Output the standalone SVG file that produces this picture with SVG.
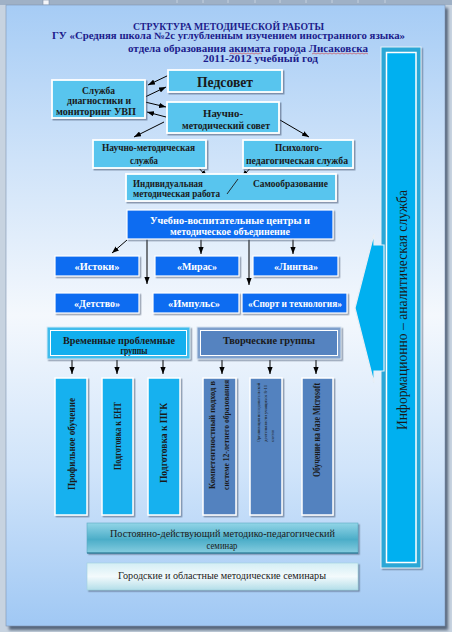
<svg xmlns="http://www.w3.org/2000/svg" width="452" height="632" viewBox="0 0 452 632">
<defs>
<linearGradient id="pg" x1="0" y1="0" x2="0" y2="1">
<stop offset="0" stop-color="#a6ccf5"/>
<stop offset="0.25" stop-color="#cfe3f9"/>
<stop offset="0.5" stop-color="#f4f8fd"/>
<stop offset="0.75" stop-color="#d0e4fa"/>
<stop offset="1" stop-color="#a0c8f4"/>
</linearGradient>
<linearGradient id="g1" x1="0" y1="0" x2="0" y2="1">
<stop offset="0" stop-color="#92d5e7"/>
<stop offset="0.55" stop-color="#4badc8"/>
<stop offset="1" stop-color="#86cde0"/>
</linearGradient>
<linearGradient id="g2" x1="0" y1="0" x2="0" y2="1">
<stop offset="0" stop-color="#d3eef5"/>
<stop offset="0.5" stop-color="#f3fafc"/>
<stop offset="1" stop-color="#b3dee9"/>
</linearGradient>
<filter id="sh" x="-10%" y="-10%" width="130%" height="140%">
<feDropShadow dx="1.5" dy="1.5" stdDeviation="0.7" flood-color="#40506a" flood-opacity="0.55"/>
</filter>
<filter id="psh" x="-5%" y="-5%" width="110%" height="110%">
<feGaussianBlur stdDeviation="1.5"/>
</filter>
<marker id="ah" viewBox="0 0 8 6" refX="8" refY="3" markerWidth="7" markerHeight="5.5" markerUnits="userSpaceOnUse" orient="auto">
<path d="M0,0 L8,3 L0,6 z" fill="#000"/>
</marker>
<style>
.t{font-family:"Liberation Serif","DejaVu Serif",serif;}
.b{font-weight:bold;}
.dk{fill:#1a1a1a;}
.wt{fill:#ffffff;}
.ttl{fill:#1c1c8c;font-weight:bold;font-size:9.5px;}
.lc{fill:#58c5ee;stroke:#ffffff;stroke-width:1.8;filter:url(#sh);}
.bl{fill:#0d6cf1;stroke:#ffffff;stroke-width:1.2;filter:url(#sh);}
.cy{fill:#15b1ef;stroke:#ffffff;stroke-width:1.5;filter:url(#sh);}
.sb{fill:#5382bf;stroke:#ffffff;stroke-width:1.5;filter:url(#sh);}
.cn line{stroke:#000;stroke-width:1;marker-end:url(#ah);}
</style>
</defs>

<!-- window / page -->
<rect x="0" y="0" width="452" height="632" fill="#c7d3e0"/>
<rect x="0" y="0" width="452" height="5" fill="#9fb1c6"/>
<rect x="43" y="0" width="6" height="5" fill="#f4f6f9" stroke="#7d8ea4" stroke-width="0.6"/>
<g stroke="#dfe6ef" stroke-width="0.6">
<line x1="177" y1="0" x2="177" y2="3"/><line x1="203" y1="0" x2="203" y2="3"/><line x1="228" y1="0" x2="228" y2="3"/>
<line x1="255" y1="0" x2="255" y2="3"/><line x1="280" y1="0" x2="280" y2="3"/><line x1="306" y1="0" x2="306" y2="3"/>
<line x1="332" y1="0" x2="332" y2="3"/><line x1="358" y1="0" x2="358" y2="3"/><line x1="385" y1="0" x2="385" y2="3"/>
</g>
<rect x="9" y="8" width="439" height="622" fill="#56667c" filter="url(#psh)"/>
<rect x="6" y="5" width="439" height="621" fill="url(#pg)" stroke="#7f95b1" stroke-width="0.6"/>

<!-- title -->
<g id="title">
<text class="t ttl" x="228.5" y="29.5" text-anchor="middle" textLength="191" lengthAdjust="spacingAndGlyphs">СТРУКТУРА МЕТОДИЧЕСКОЙ РАБОТЫ</text>
<text class="t ttl" x="228.5" y="38.5" text-anchor="middle" textLength="353" lengthAdjust="spacingAndGlyphs">ГУ «Средняя школа №2с углубленным изучением иностранного языка»</text>
<text class="t ttl" x="248" y="51.5" text-anchor="middle" textLength="240" lengthAdjust="spacingAndGlyphs">отдела образования акимата города Лисаковска</text>
<text class="t ttl" x="260.5" y="62" text-anchor="middle" textLength="115" lengthAdjust="spacingAndGlyphs">2011-2012 учебный год</text>
<path d="M230,54 l2,-1 l2,1 l2,-1 l2,1 l2,-1 l2,1 l2,-1 l2,1 l2,-1 l2,1 l2,-1 l2,1 l2,-1 l2,1 l2,-1 l2,1 M312,54 l2,-1 l2,1 l2,-1 l2,1 l2,-1 l2,1 l2,-1 l2,1 l2,-1 l2,1 l2,-1 l2,1 l2,-1 l2,1 l2,-1 l2,1 l2,-1 l2,1 l2,-1 l2,1 l2,-1 l2,1 l2,-1 l2,1 l2,-1 l2,1 l2,-1 l2,1" fill="none" stroke="#d23a3a" stroke-width="0.6"/>
</g>

<!-- right service bar -->
<g id="info-service">
<rect x="381" y="47" width="40" height="521" fill="#2aa7d6" stroke="#e4f0f9" stroke-width="1" filter="url(#sh)"/>
<rect x="386.5" y="52.5" width="29.5" height="510" fill="#00b0f0" stroke="#ffffff" stroke-width="1.5"/>
<polygon points="384,245 374,245 374,234 355,308 374,383 374,371 384,371" fill="#00b0f0" stroke="#e8eef5" stroke-width="1.2"/>
<text class="t dk" transform="translate(402,310) rotate(-90)" text-anchor="middle" dominant-baseline="central" font-size="14" textLength="240" lengthAdjust="spacingAndGlyphs">Информационно – аналитическая служба</text>
</g>

<!-- connectors -->
<g id="connectors" class="cn">
<line x1="169" y1="75" x2="148" y2="85"/>
<line x1="145" y1="97" x2="166" y2="87"/>
<line x1="145" y1="102" x2="166" y2="107"/>
<line x1="166" y1="117" x2="147" y2="112"/>
<line x1="164" y1="122" x2="134" y2="137"/>
<line x1="280" y1="120" x2="309" y2="137"/>
<line x1="197" y1="166" x2="207" y2="177"/>
<line x1="255" y1="163" x2="242" y2="177"/>
<line x1="127" y1="240" x2="112" y2="253"/>
<line x1="147" y1="239" x2="147" y2="284"/>
<line x1="201" y1="239" x2="201" y2="254"/>
<line x1="249" y1="239" x2="249" y2="285"/>
<line x1="293" y1="239" x2="293" y2="254"/>
<line x1="72" y1="360" x2="72" y2="374"/>
<line x1="117" y1="360" x2="117" y2="374"/>
<line x1="163" y1="360" x2="163" y2="374"/>
<line x1="222" y1="360" x2="222" y2="374"/>
<line x1="270" y1="360" x2="270" y2="374"/>
<line x1="316" y1="360" x2="316" y2="374"/>
</g>

<!-- top level nodes -->
<g id="pedsovet">
<rect class="lc" x="168" y="70" width="114" height="22"/>
<text class="t b dk" x="225" y="86.5" text-anchor="middle" font-size="15" textLength="56" lengthAdjust="spacingAndGlyphs">Педсовет</text>
</g>
<g id="diagnostics">
<rect class="lc" x="52" y="80" width="93" height="38"/>
<text class="t b dk" x="98.5" y="93.5" text-anchor="middle" font-size="10" textLength="33" lengthAdjust="spacingAndGlyphs">Служба</text>
<text class="t b dk" x="99" y="104" text-anchor="middle" font-size="10" textLength="64" lengthAdjust="spacingAndGlyphs">диагностики и</text>
<text class="t b dk" x="96" y="114.5" text-anchor="middle" font-size="10" textLength="80" lengthAdjust="spacingAndGlyphs">мониторинг УВП</text>
</g>
<g id="nm-council">
<rect class="lc" x="167" y="102" width="112" height="31"/>
<text class="t b dk" x="223" y="117" text-anchor="middle" font-size="10" textLength="40" lengthAdjust="spacingAndGlyphs">Научно-</text>
<text class="t b dk" x="226" y="129" text-anchor="middle" font-size="10" textLength="88" lengthAdjust="spacingAndGlyphs">методический совет</text>
</g>
<g id="nm-service">
<rect class="lc" x="93" y="140" width="113" height="28"/>
<text class="t b dk" x="148.5" y="151" text-anchor="middle" font-size="10" textLength="93" lengthAdjust="spacingAndGlyphs">Научно-методическая</text>
<text class="t b dk" x="144" y="164" text-anchor="middle" font-size="10" textLength="28" lengthAdjust="spacingAndGlyphs">служба</text>
</g>
<g id="psych-service">
<rect class="lc" x="243" y="140" width="110" height="28"/>
<text class="t b dk" x="298.5" y="151" text-anchor="middle" font-size="10" textLength="47" lengthAdjust="spacingAndGlyphs">Психолого-</text>
<text class="t b dk" x="297" y="164" text-anchor="middle" font-size="10" textLength="102" lengthAdjust="spacingAndGlyphs">педагогическая служба</text>
</g>
<g id="individual">
<rect class="lc" x="126" y="174" width="210" height="27"/>
<text class="t b dk" x="133" y="186.5" font-size="10" textLength="70" lengthAdjust="spacingAndGlyphs">Индивидуальная</text>
<text class="t b dk" x="133" y="196.5" font-size="10" textLength="87" lengthAdjust="spacingAndGlyphs">методическая работа</text>
<line x1="227" y1="194" x2="238" y2="179" stroke="#1a1a1a" stroke-width="0.9"/>
<text class="t b dk" x="253" y="186.5" font-size="10" textLength="75" lengthAdjust="spacingAndGlyphs">Самообразование</text>
</g>

<!-- educational centres -->
<g id="centres">
<rect class="bl" x="127" y="210" width="206" height="29"/>
<text class="t b wt" x="230" y="223.5" text-anchor="middle" font-size="10" textLength="160" lengthAdjust="spacingAndGlyphs">Учебно-воспитательные  центры и</text>
<text class="t b wt" x="230" y="234.5" text-anchor="middle" font-size="10" textLength="120" lengthAdjust="spacingAndGlyphs">методическое объединение</text>
</g>
<g id="istoki">
<rect class="bl" x="55" y="256" width="84" height="20"/>
<text class="t b wt" x="97" y="269.5" text-anchor="middle" font-size="10" textLength="45" lengthAdjust="spacingAndGlyphs">«Истоки»</text>
</g>
<g id="miras">
<rect class="bl" x="155" y="256" width="84" height="20"/>
<text class="t b wt" x="197" y="269.5" text-anchor="middle" font-size="10" textLength="40" lengthAdjust="spacingAndGlyphs">«Мирас»</text>
</g>
<g id="lingva">
<rect class="bl" x="253" y="256" width="85" height="20"/>
<text class="t b wt" x="296" y="269.5" text-anchor="middle" font-size="10" textLength="44" lengthAdjust="spacingAndGlyphs">«Лингва»</text>
</g>
<g id="detstvo">
<rect class="bl" x="55" y="293" width="84" height="20"/>
<text class="t b wt" x="97" y="306.5" text-anchor="middle" font-size="10" textLength="46" lengthAdjust="spacingAndGlyphs">«Детство»</text>
</g>
<g id="impuls">
<rect class="bl" x="153" y="293" width="86" height="20"/>
<text class="t b wt" x="194" y="306.5" text-anchor="middle" font-size="10" textLength="52" lengthAdjust="spacingAndGlyphs">«Импульс»</text>
</g>
<g id="sport">
<rect class="bl" x="242" y="293" width="105" height="20"/>
<text class="t b wt" x="295" y="306.5" text-anchor="middle" font-size="10" textLength="94" lengthAdjust="spacingAndGlyphs">«Спорт и технология»</text>
</g>

<!-- groups -->
<g id="temp-groups">
<rect x="47" y="327" width="143" height="32" fill="#3fbcec" stroke="#d4e9f5" stroke-width="1" filter="url(#sh)"/>
<rect x="50.5" y="330.5" width="136" height="25" fill="#12afee" stroke="#ffffff" stroke-width="1"/>
<text class="t b dk" x="119" y="343.5" text-anchor="middle" font-size="10" textLength="112" lengthAdjust="spacingAndGlyphs">Временные проблемные</text>
<text class="t b dk" x="134" y="353.5" text-anchor="middle" font-size="10" textLength="27" lengthAdjust="spacingAndGlyphs">группы</text>
</g>
<g id="creative-groups">
<rect x="197" y="327" width="144" height="32" fill="#7d9fcc" stroke="#d8e3ef" stroke-width="1" filter="url(#sh)"/>
<rect x="200.5" y="330.5" width="137" height="25" fill="#5583c0" stroke="#ffffff" stroke-width="1"/>
<text class="t b dk" x="269" y="343.5" text-anchor="middle" font-size="10" textLength="92" lengthAdjust="spacingAndGlyphs">Творческие группы</text>
</g>

<!-- vertical boxes -->
<g id="profile">
<rect class="cy" x="55" y="378" width="32" height="137"/>
<text class="t b dk" transform="translate(71,444) rotate(-90)" text-anchor="middle" dominant-baseline="central" font-size="10" textLength="92" lengthAdjust="spacingAndGlyphs">Профильное обучение</text>
</g>
<g id="ent">
<rect class="cy" x="102" y="378" width="31" height="137"/>
<text class="t b dk" transform="translate(117,436) rotate(-90)" text-anchor="middle" dominant-baseline="central" font-size="10" textLength="68" lengthAdjust="spacingAndGlyphs">Подготовка к ЕНТ</text>
</g>
<g id="pgk">
<rect class="cy" x="148" y="378" width="32" height="137"/>
<text class="t b dk" transform="translate(163.5,443) rotate(-90)" text-anchor="middle" dominant-baseline="central" font-size="10" textLength="80" lengthAdjust="spacingAndGlyphs">Подготовка к ПГК</text>
</g>
<g id="competence">
<rect class="sb" x="203" y="378" width="33" height="137"/>
<text class="t b dk" transform="translate(212,489) rotate(-90)" dominant-baseline="central" font-size="8.5" textLength="108" lengthAdjust="spacingAndGlyphs">Компетентностный подход в</text>
<text class="t b dk" transform="translate(226,490) rotate(-90)" dominant-baseline="central" font-size="8.5" textLength="110" lengthAdjust="spacingAndGlyphs">системе 12-летнего образования</text>
</g>
<g id="research">
<rect class="sb" x="250" y="378" width="32" height="137"/>
<text class="t dk" transform="translate(258,442) rotate(-90)" dominant-baseline="central" font-size="5" textLength="59" lengthAdjust="spacingAndGlyphs">Организация исследовательской</text>
<text class="t dk" transform="translate(265,442) rotate(-90)" dominant-baseline="central" font-size="5" textLength="57" lengthAdjust="spacingAndGlyphs">деятельности учащихся 8-11</text>
<text class="t dk" transform="translate(272,442) rotate(-90)" dominant-baseline="central" font-size="5" textLength="12" lengthAdjust="spacingAndGlyphs">классов</text>
</g>
<g id="microsoft">
<rect class="sb" x="302" y="378" width="31" height="137"/>
<text class="t b dk" transform="translate(316.5,430) rotate(-90)" text-anchor="middle" dominant-baseline="central" font-size="9.5" textLength="94" lengthAdjust="spacingAndGlyphs">Обучение на базе Microsoft</text>
</g>

<!-- seminars -->
<g id="permanent-seminar">
<rect x="87" y="523" width="271" height="30" fill="url(#g1)" stroke="#5aa9c2" stroke-width="0.6" filter="url(#sh)"/>
<line x1="87" y1="553" x2="358" y2="553" stroke="#1f6f8c" stroke-width="1"/>
<text class="t dk" x="222.5" y="536.5" text-anchor="middle" font-size="10.5" textLength="225" lengthAdjust="spacingAndGlyphs">Постоянно-действующий  методико-педагогический</text>
<text class="t dk" x="222" y="548.5" text-anchor="middle" font-size="10.5" textLength="31" lengthAdjust="spacingAndGlyphs">семинар</text>
</g>
<g id="city-seminars">
<rect x="87" y="563" width="271" height="27" fill="url(#g2)" stroke="#9fcfdc" stroke-width="0.6" filter="url(#sh)"/>
<text class="t dk" x="222" y="578.5" text-anchor="middle" font-size="11" textLength="208" lengthAdjust="spacingAndGlyphs">Городские и областные  методические  семинары</text>
</g>
</svg>
